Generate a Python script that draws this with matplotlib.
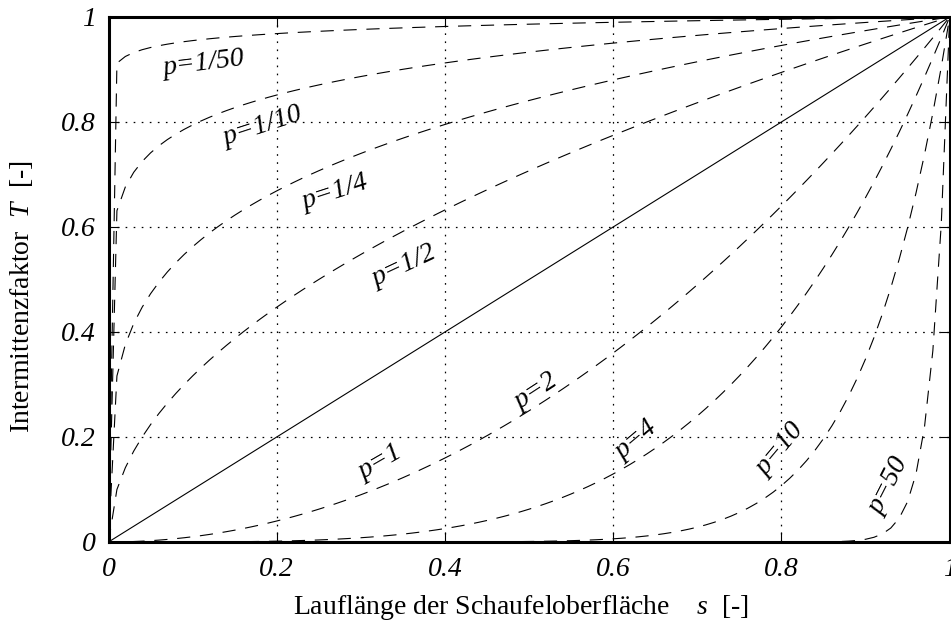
#!/usr/bin/env python3

import numpy as np
import matplotlib
matplotlib.use('Agg')
import matplotlib.pyplot as plt

# exponents of the intermittency curves T = s**p
exponents = [1/50, 1/10, 1/4, 1/2, 1, 2, 4, 10, 50]
labels = ['p=1/50', 'p=1/10', 'p=1/4', 'p=1/2', 'p=1',
          'p=2', 'p=4', 'p=10', 'p=50']
# label anchor (s, T) and rotation in degrees
label_pos = [(0.113, 0.912), (0.183, 0.792), (0.270, 0.665), (0.352, 0.526),
             (0.323, 0.152), (0.508, 0.286), (0.628, 0.194), (0.799, 0.175),
             (0.928, 0.105)]
label_rot = [7, 18, 18, 25, 30, 33, 40, 50, 63]

ticks = [0, 0.2, 0.4, 0.6, 0.8, 1]
tick_labels = ['0', '0.2', '0.4', '0.6', '0.8', '1']

plt.rcParams['font.family'] = 'Liberation Serif'
plt.rcParams['mathtext.fontset'] = 'custom'
plt.rcParams['mathtext.rm'] = 'Liberation Serif'
plt.rcParams['mathtext.it'] = 'Liberation Serif:italic'
plt.rcParams['lines.scale_dashes'] = False


def plot():
    fig = plt.figure(figsize=(9.51, 6.26), dpi=100)
    ax = fig.add_axes([0.1141, 0.1342, 0.8845, 0.8387])

    s = np.linspace(0.0, 1.0, 101)
    for p in exponents:
        if p == 1:
            ax.plot(s, s**p, color='black', lw=0.8, solid_capstyle='butt')
        else:
            ax.plot(s, s**p, color='black', lw=0.8, dashes=(9.5, 7))

    for txt, (x, y), rot in zip(labels, label_pos, label_rot):
        ax.text(x, y, txt, fontsize=20, style='italic', rotation=rot,
                ha='center', va='center', rotation_mode='anchor')

    ax.set_xlim(0, 1)
    ax.set_ylim(0, 1)
    ax.set_xticks(ticks)
    ax.set_yticks(ticks)
    ax.set_xticklabels(tick_labels, fontsize=20, style='italic')
    ax.set_yticklabels(tick_labels, fontsize=20, style='italic')
    ax.tick_params(direction='in', length=7, width=0.8, top=True, right=True)
    ax.tick_params(axis='x', pad=11)
    ax.tick_params(axis='y', pad=9)
    ax.grid(True, color='black', lw=0.9, dashes=(1.2, 4.6))
    for sp in ax.spines.values():
        sp.set_linewidth(2.2)

    ax.set_xlabel('Lauflänge der Schaufeloberfläche    $s$  [-]', fontsize=20)
    ax.set_ylabel('Intermittenzfaktor  $T$  [-]', fontsize=20)
    ax.xaxis.set_label_coords(0.49, -0.098)
    ax.yaxis.set_label_coords(-0.087, 0.467)
    return fig


if __name__ == '__main__':
    fig = plot()
    fig.savefig('out.png', dpi=100)
